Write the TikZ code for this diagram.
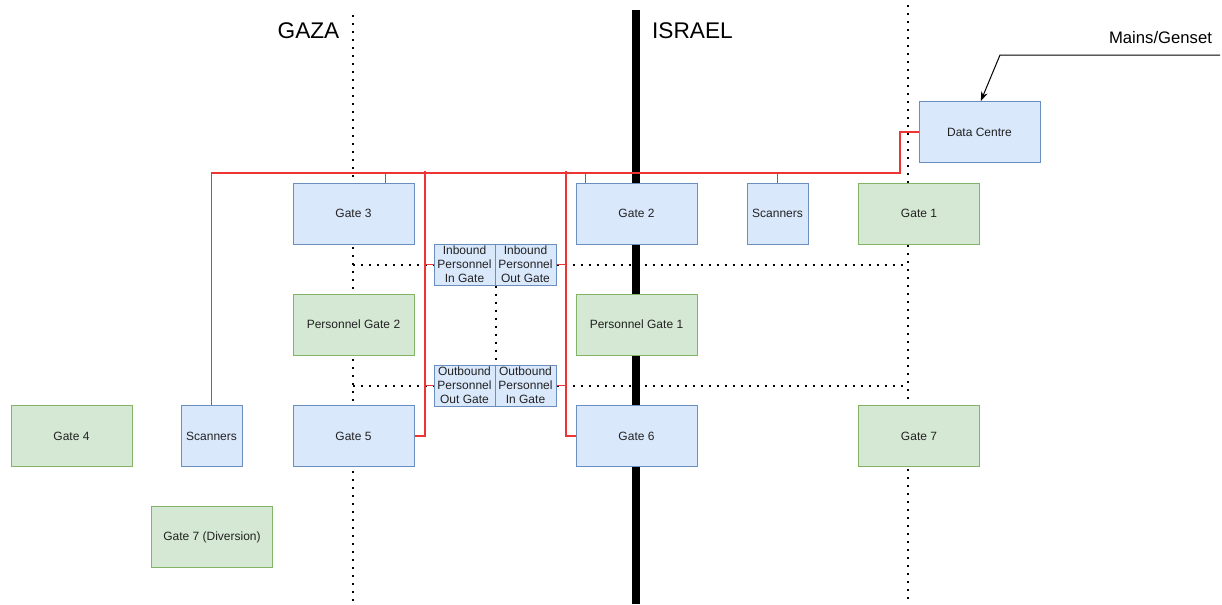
\documentclass[tikz,border=0pt]{standalone}
\usepackage{fontspec}
\setmainfont{Liberation Sans}
\usetikzlibrary{arrows.meta}
\definecolor{bfill}{HTML}{DAE8FC}
\definecolor{bline}{HTML}{6C8EBF}
\definecolor{gfill}{HTML}{D5E8D4}
\definecolor{gline}{HTML}{82B366}
\definecolor{rline}{HTML}{EE3333}
\definecolor{txt}{HTML}{222222}
\begin{document}
\begin{tikzpicture}[x=0.75pt,y=-0.75pt,
  bx/.style={draw=bline,fill=bfill,line width=0.75pt,inner sep=0pt,align=center,text=txt,font=\fontsize{9}{10}\selectfont,minimum width=90.75pt,minimum height=45.75pt},
  gx/.style={bx,draw=gline,fill=gfill},
  narrow/.style={minimum width=45.75pt},
  small/.style={bx,minimum width=45.75pt,minimum height=30.75pt,font=\fontsize{9}{10.4}\selectfont},
  dotline/.style={line width=1.5pt,dash pattern=on 1.5pt off 4.5pt},
  redline/.style={draw=rline,line width=1pt},
  lbl/.style={font=\fontsize{17}{20}\selectfont,inner sep=0pt}]
\useasboundingbox (0,0) rectangle (1222,604);
% border lines
\draw[dotline] (353,15) -- (353,604);
\draw[dotline] (908,5) -- (908,604);
\draw[line width=6pt] (636,10) -- (636,604);
\node[lbl] (gaza) at (308.5,31) {GAZA};
\node[lbl] (israel) at (692.5,31) {ISRAEL};
\node[font=\fontsize{12.5}{14}\selectfont,inner sep=0pt] (mains) at (1160.5,38) {Mains/Genset};
% nodes
\node[bx] (dc) at (979.5,132) {Data Centre};
\node[bx] (g3) at (353.5,213.5) {Gate 3};
\node[bx] (g2) at (636.5,213.5) {Gate 2};
\node[bx,narrow] (sc1) at (777.5,213.5) {Scanners};
\node[gx] (g1) at (919,213.5) {Gate 1};
\node[small] (ii) at (464.5,264.5) {Inbound\\Personnel\\In Gate};
\node[small] (io) at (525.5,264.5) {Inbound\\Personnel\\Out Gate};
\node[gx] (pg2) at (353.5,324.5) {Personnel Gate 2};
\node[gx] (pg1) at (636.5,324.5) {Personnel Gate 1};
\node[small] (oo) at (464.5,385.5) {Outbound\\Personnel\\Out Gate};
\node[small] (oi) at (525.5,385.5) {Outbound\\Personnel\\In Gate};
\node[gx] (g4) at (71.5,436) {Gate 4};
\node[bx,narrow] (sc2) at (211.5,436) {Scanners};
\node[bx] (g5) at (353.5,436) {Gate 5};
\node[bx] (g6) at (636.5,436) {Gate 6};
\node[gx] (g7) at (919,436) {Gate 7};
\node[gx] (g7d) at (212,537) {Gate 7 (Diversion)};
% dotted crossings
\coordinate (l1) at (353,264.5);
\coordinate (r1) at (908,264.5);
\coordinate (l2) at (353,385.5);
\coordinate (r2) at (908,385.5);
\draw[dotline] (l1) -- (ii.west);
\draw[dotline] (io.east) -- (r1);
\draw[dotline] (l2) -- (oo.west);
\draw[dotline] (oi.east) -- (r2);
\draw[dotline] (ii.south east) -- (oo.north east);
% red connectors
\coordinate (cx) at (900,173);
\draw[redline] (dc.west) -| (cx) -| (sc2.north);
\draw[redline] ([xshift=-21.75pt]g3.north east) -- ++(0,-10);
\draw[redline] ([xshift=7.5pt]g2.north west) -- ++(0,-10);
\draw[redline] (sc1.north) -- ++(0,-10);
\coordinate (a5) at (425,436);
\coordinate (t5) at (425,171);
\coordinate (a6) at (566,436);
\coordinate (t6) at (566,171);
\draw[redline] (g5.east) -- (a5) -- (t5);
\draw[redline] (g6.west) -- (a6) -- (t6);
\draw[redline] (ii.west) -- (ii.west -| a5);
\draw[redline] (oo.west) -- (oo.west -| a5);
\draw[redline] (io.east) -- (io.east -| a6);
\draw[redline] (oi.east) -- (oi.east -| a6);
% power arrow
\coordinate (p0) at (1220,55);
\coordinate (p1) at (1000,55);
\draw[line width=0.75pt,-{Stealth[length=7pt,width=5pt]}] (p0) -- (p1) -- ([xshift=1pt]dc.north);
\end{tikzpicture}
\end{document}
